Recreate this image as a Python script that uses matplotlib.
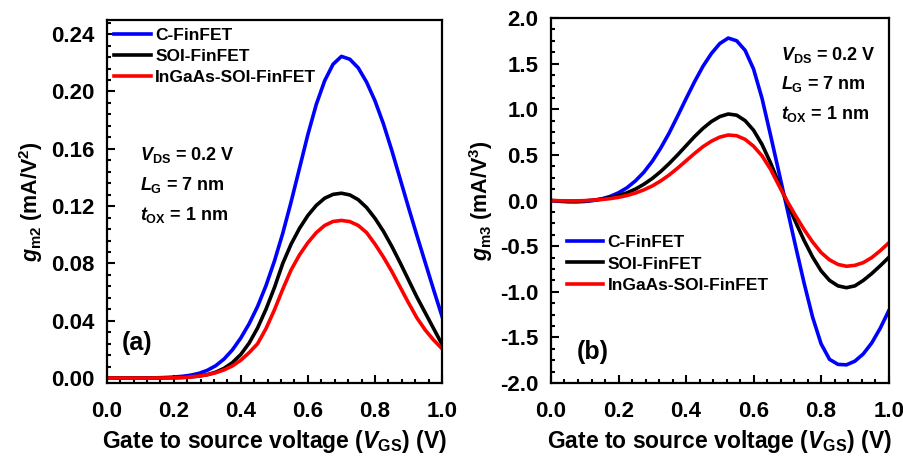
import matplotlib
matplotlib.use("Agg")
import matplotlib.pyplot as plt
import numpy as np
from matplotlib.ticker import AutoMinorLocator, FormatStrFormatter, MultipleLocator

plt.rcParams["font.family"] = ["Liberation Sans", "DejaVu Sans"]
plt.rcParams["font.weight"] = "bold"
plt.rcParams["axes.labelweight"] = "bold"
plt.rcParams["mathtext.fontset"] = "custom"
plt.rcParams["mathtext.rm"] = "Liberation Sans:bold"
plt.rcParams["mathtext.bf"] = "Liberation Sans:bold"
plt.rcParams["mathtext.it"] = "Liberation Sans:italic:bold"

# gate voltage grid (V)
vgs = np.round(np.arange(0, 1.0001, 0.025), 3)

# (a) gm2 in mA/V^2
gm2_c = [0.0, 0.0, 0.0, 0.0, 0.0, 0.0001, 0.0002, 0.0004, 0.0007, 0.0012,
         0.0020, 0.0033, 0.0054, 0.0086, 0.0133, 0.0197, 0.0280, 0.0380, 0.0500, 0.0645,
         0.0815, 0.1010, 0.1230, 0.1465, 0.1700, 0.1910, 0.2075, 0.2190, 0.2245, 0.2225,
         0.2165, 0.2065, 0.1935, 0.1775, 0.1590, 0.1390, 0.1190, 0.0995, 0.0805, 0.0615,
         0.0430]
gm2_soi = [0.0, 0.0, 0.0, 0.0, 0.0, 0.0, 0.0001, 0.0002, 0.0002, 0.0004,
           0.0008, 0.0014, 0.0024, 0.0041, 0.0068, 0.0108, 0.0165, 0.0245, 0.0350, 0.0480,
           0.0630, 0.0800, 0.0935, 0.1045, 0.1135, 0.1205, 0.1255, 0.1282, 0.1290, 0.1278,
           0.1245, 0.1190, 0.1115, 0.1025, 0.0920, 0.0805, 0.0685, 0.0565, 0.0455, 0.0345,
           0.0235]
gm2_ingaas = [0.0, 0.0, 0.0, 0.0, 0.0, 0.0, 0.0001, 0.0001, 0.0002, 0.0004,
              0.0008, 0.0014, 0.0023, 0.0037, 0.0057, 0.0085, 0.0125, 0.0178, 0.0240, 0.0345,
              0.0475, 0.0620, 0.0755, 0.0860, 0.0945, 0.1015, 0.1065, 0.1093, 0.1100, 0.1092,
              0.1065, 0.1015, 0.0935, 0.0845, 0.0745, 0.0635, 0.0525, 0.0420, 0.0335, 0.0265,
              0.0205]

# (b) gm3 in mA/V^3
gm3_c = [0.00, -0.008, -0.014, -0.015, -0.010, 0.000, 0.018, 0.045, 0.085, 0.14,
         0.215, 0.31, 0.43, 0.575, 0.74, 0.925, 1.115, 1.30, 1.47, 1.61,
         1.72, 1.78, 1.75, 1.645, 1.44, 1.12, 0.72, 0.31, -0.10, -0.51,
         -0.91, -1.28, -1.57, -1.74, -1.795, -1.80, -1.76, -1.68, -1.56, -1.40,
         -1.21]
gm3_soi = [0.00, -0.004, -0.008, -0.008, -0.004, 0.004, 0.016, 0.032, 0.054, 0.085,
           0.125, 0.178, 0.242, 0.318, 0.405, 0.50, 0.60, 0.70, 0.79, 0.865,
           0.92, 0.948, 0.935, 0.875, 0.77, 0.615, 0.415, 0.19, -0.03, -0.24,
           -0.44, -0.62, -0.77, -0.875, -0.935, -0.955, -0.935, -0.875, -0.80, -0.715,
           -0.625]
gm3_ingaas = [0.00, -0.002, -0.004, -0.004, -0.001, 0.004, 0.011, 0.021, 0.035, 0.055,
              0.082, 0.117, 0.16, 0.215, 0.28, 0.355, 0.435, 0.515, 0.59, 0.65,
              0.695, 0.718, 0.71, 0.67, 0.595, 0.49, 0.345, 0.165, -0.01, -0.17,
              -0.32, -0.455, -0.57, -0.65, -0.70, -0.72, -0.71, -0.68, -0.625, -0.55,
              -0.465]

labels = ["C-FinFET", "SOI-FinFET", "InGaAs-SOI-FinFET"]
colors = ["#0000ff", "black", "#ff0000"]
cond_text = "$V_{\\mathrm{DS}}$ = 0.2 V\n$L_{\\mathrm{G}}$ = 7 nm\n$t_{\\mathrm{OX}}$ = 1 nm"


def style_axis(ax):
    for s in ax.spines.values():
        s.set_linewidth(1.6)
    ax.tick_params(which="both", direction="in", top=False, right=False, width=1.5)
    ax.tick_params(which="major", length=6, labelsize=16)
    ax.tick_params(axis="x", which="major", pad=13)
    ax.tick_params(axis="y", which="major", pad=9)
    ax.tick_params(which="minor", length=3)
    ax.set_xlim(0, 1.0)
    ax.xaxis.set_major_locator(MultipleLocator(0.2))
    ax.xaxis.set_minor_locator(AutoMinorLocator(5))
    ax.xaxis.set_major_formatter(FormatStrFormatter("%.1f"))
    ax.set_xlabel("Gate to source voltage ($V_{\\mathrm{GS}}$) (V)", fontsize=16.5,
                  fontweight="bold", labelpad=4)


fig = plt.figure(figsize=(9.04, 4.61), dpi=100)
ax1 = fig.add_axes([0.118, 0.169, 0.371, 0.788])
ax2 = fig.add_axes([0.6095, 0.169, 0.3735, 0.792])

for y, lab, c in zip([gm2_c, gm2_soi, gm2_ingaas], labels, colors):
    ax1.plot(vgs, y, color=c, lw=2.6, label=lab)
ax1.set_ylim(-0.0035, 0.25)
ax1.yaxis.set_major_locator(MultipleLocator(0.04))
ax1.yaxis.set_minor_locator(AutoMinorLocator(5))
ax1.yaxis.set_major_formatter(FormatStrFormatter("%.2f"))
style_axis(ax1)
ax1.set_ylabel("$g_{\\mathrm{m2}}$ (mA/V$^{\\mathrm{2}}$)", fontsize=15.5, fontweight="bold",
               labelpad=4)
ax1.legend(loc="upper left", frameon=False, fontsize=12.5, handlelength=2.1,
           handletextpad=0.25, borderaxespad=0.05, labelspacing=0.35,
           bbox_to_anchor=(0.0, 1.0))
ax1.text(0.1, 0.655, cond_text, transform=ax1.transAxes, fontsize=13, va="top",
         linespacing=1.65)
ax1.text(0.045, 0.11, "(a)", transform=ax1.transAxes, fontsize=18, va="center")

for y, lab, c in zip([gm3_c, gm3_soi, gm3_ingaas], labels, colors):
    ax2.plot(vgs, y, color=c, lw=2.6, label=lab)
ax2.set_ylim(-2.0, 2.0)
ax2.yaxis.set_major_locator(MultipleLocator(0.5))
ax2.yaxis.set_minor_locator(AutoMinorLocator(4))
ax2.yaxis.set_major_formatter(FormatStrFormatter("%.1f"))
style_axis(ax2)
ax2.set_ylabel("$g_{\\mathrm{m3}}$ (mA/V$^{\\mathrm{3}}$)", fontsize=15.5, fontweight="bold",
               labelpad=4)
ax2.legend(loc="upper left", frameon=False, fontsize=12.5, handlelength=2.1,
           handletextpad=0.25, labelspacing=0.35, bbox_to_anchor=(0.0, 0.448))
ax2.text(0.68, 0.927, cond_text, transform=ax2.transAxes, fontsize=13, va="top",
         linespacing=1.65)
ax2.text(0.075, 0.085, "(b)", transform=ax2.transAxes, fontsize=18, va="center")

fig.savefig("out.png", dpi=100)
